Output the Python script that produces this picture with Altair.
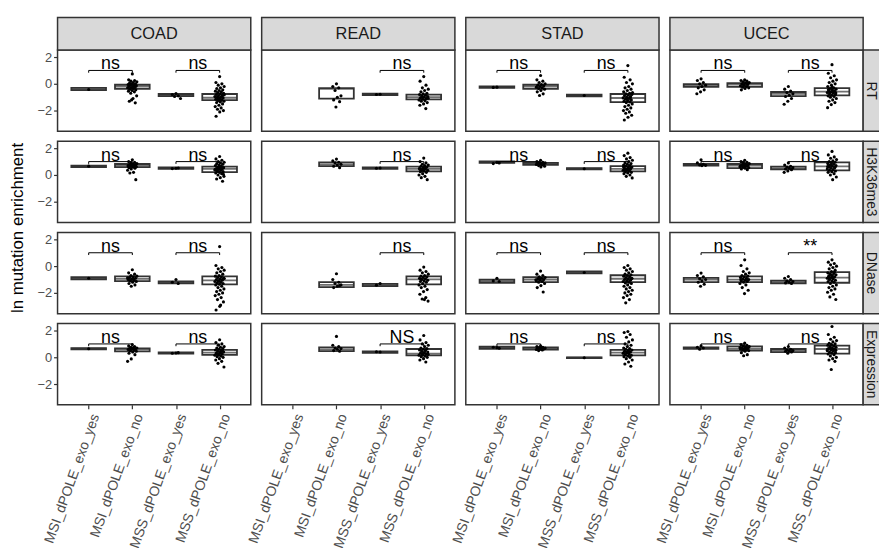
import altair as alt
import pandas as pd

CANCERS = ["COAD", "READ", "STAD", "UCEC"]
FEATURES = ["RT", "H3K36me3", "DNase", "Expression"]
GROUPS = ["MSI_dPOLE_exo_yes", "MSI_dPOLE_exo_no", "MSS_dPOLE_exo_yes", "MSS_dPOLE_exo_no"]
Y_TICKS = [-2, 0, 2]
Y_DOMAIN = [-3.55, 2.52]

# ---- box statistics (q1, median, q3) per group ----
RT_BOX = {
    "COAD": [(-0.47, -0.39, -0.31), (-0.37, -0.20, -0.07), (-0.92, -0.84, -0.76), (-1.21, -1.04, -0.76)],
    "READ": [None, (-1.11, -0.38, -0.32), (-0.85, -0.79, -0.73), (-1.16, -0.99, -0.81)],
    "STAD": [(-0.31, -0.25, -0.19), (-0.37, -0.20, -0.07), (-0.93, -0.87, -0.81), (-1.36, -1.06, -0.76)],
    "UCEC": [(-0.23, -0.10, -0.02), (-0.23, -0.05, 0.05), (-0.92, -0.75, -0.61), (-0.87, -0.59, -0.32)],
}
H3_BOX = {
    "COAD": [(0.59, 0.64, 0.69), (0.59, 0.70, 0.82), (0.46, 0.51, 0.57), (0.22, 0.45, 0.62)],
    "READ": [None, (0.66, 0.80, 0.94), (0.46, 0.51, 0.57), (0.27, 0.45, 0.62)],
    "STAD": [(0.91, 0.96, 1.02), (0.76, 0.85, 0.91), (0.42, 0.47, 0.52), (0.27, 0.45, 0.67)],
    "UCEC": [(0.71, 0.76, 0.82), (0.51, 0.70, 0.82), (0.42, 0.50, 0.62), (0.34, 0.65, 0.94)],
}
DN_BOX = {
    "COAD": [(-0.99, -0.91, -0.83), (-1.12, -0.95, -0.76), (-1.29, -1.21, -1.13), (-1.36, -1.06, -0.76)],
    "READ": [None, (-1.56, -1.40, -1.20), (-1.49, -1.41, -1.33), (-1.36, -0.99, -0.76)],
    "STAD": [(-1.24, -1.12, -1.01), (-1.19, -1.00, -0.83), (-0.54, -0.47, -0.39), (-1.19, -0.94, -0.68)],
    "UCEC": [(-1.19, -1.00, -0.88), (-1.19, -1.01, -0.76), (-1.29, -1.20, -1.08), (-1.24, -0.86, -0.44)],
}
EX_BOX = {
    "COAD": [(0.59, 0.64, 0.69), (0.44, 0.60, 0.67), (0.27, 0.32, 0.37), (0.19, 0.35, 0.55)],
    "READ": [None, (0.47, 0.60, 0.74), (0.34, 0.40, 0.45), (0.14, 0.27, 0.62)],
    "STAD": [(0.64, 0.72, 0.80), (0.57, 0.65, 0.74), (-0.06, -0.03, 0.00), (0.14, 0.35, 0.55)],
    "UCEC": [(0.64, 0.70, 0.74), (0.51, 0.65, 0.82), (0.39, 0.50, 0.62), (0.27, 0.62, 0.87)],
}

# ---- individual (jittered) points per group ----
RT_PTS = {
    "COAD": [
        [-0.42],
        [0.74, 0.3, 0.25, 0.2, 0.15, 0.1, 0.05, 0.0, 0.0, -0.05, -0.1, -0.1, -0.15, -0.2, -0.2, -0.25, -0.3,
         -0.3, -0.35, -0.4, -0.45, -0.5, -0.55, -0.6, -0.7, -0.9, -1.1, -1.3, -1.42, -1.2],
        [-0.72, -0.8, -0.9, -0.95, -1.1],
        [0.54, 0.1, 0.0, -0.1, -0.2, -0.3, -0.35, -0.45, -0.5, -0.55, -0.6, -0.65, -0.7, -0.75, -0.8, -0.85,
         -0.9, -0.95, -1.0, -1.0, -1.05, -1.1, -1.15, -1.2, -1.25, -1.3, -1.35, -1.4, -1.5, -1.6, -1.7, -1.8,
         -1.9, -2.0, -2.1, -2.42, -0.92, -1.12, -0.82, -1.22],
    ],
    "READ": [
        [],
        [0.0, -0.2, -0.3, -0.5, -0.9, -1.0, -1.2, -1.33, -1.73],
        [-0.78, -0.8],
        [0.54, 0.2, -0.1, -0.3, -0.4, -0.5, -0.6, -0.7, -0.75, -0.8, -0.85, -0.9, -0.95, -1.0, -1.05, -1.1,
         -1.15, -1.2, -1.25, -1.3, -1.4, -1.5, -1.6, -1.85, -0.98, -1.08],
    ],
    "STAD": [
        [-0.25, -0.27],
        [0.62, 0.3, 0.2, 0.1, 0.0, -0.05, -0.1, -0.15, -0.2, -0.25, -0.3, -0.35, -0.4, -0.5, -0.6, -0.75, -0.87],
        [-0.87],
        [1.36, 0.49, 0.3, 0.1, 0.0, -0.2, -0.3, -0.4, -0.5, -0.6, -0.7, -0.75, -0.8, -0.85, -0.9, -0.95, -1.0,
         -1.05, -1.1, -1.15, -1.2, -1.25, -1.3, -1.35, -1.4, -1.5, -1.6, -1.7, -1.8, -1.9, -2.0, -2.1, -2.2,
         -2.35, -2.5, -2.7, -1.02, -1.12, -0.65],
    ],
    "UCEC": [
        [0.37, 0.25, 0.1, 0.0, -0.1, -0.2, -0.3, -0.45, -0.6, -0.74],
        [0.3, 0.25, 0.2, 0.15, 0.1, 0.05, 0.0, -0.05, -0.1, -0.15, -0.2, -0.25, -0.3, -0.35, -0.45, 0.02, -0.08],
        [-0.2, -0.4, -0.55, -0.65, -0.75, -0.85, -0.95, -1.1, -1.3, -1.53],
        [1.43, 0.79, 0.6, 0.45, 0.3, 0.2, 0.1, 0.0, -0.1, -0.2, -0.3, -0.35, -0.4, -0.45, -0.5, -0.55, -0.6,
         -0.65, -0.7, -0.75, -0.8, -0.85, -0.9, -0.95, -1.0, -1.1, -1.2, -1.3, -1.4, -1.55, -1.78, -0.58,
         -0.62, -0.68, -0.25, -0.42],
    ],
}
H3_PTS = {
    "COAD": [
        [0.66],
        [1.13, 1.0, 0.95, 0.9, 0.85, 0.8, 0.78, 0.75, 0.72, 0.7, 0.68, 0.65, 0.62, 0.6, 0.55, 0.5, 0.45, 0.35,
         0.2, 0.15, -0.35, 0.72, 0.66],
        [0.5, 0.48, 0.52],
        [1.38, 1.2, 1.1, 1.0, 0.95, 0.9, 0.85, 0.8, 0.75, 0.7, 0.65, 0.6, 0.55, 0.5, 0.48, 0.45, 0.42, 0.4,
         0.35, 0.3, 0.25, 0.2, 0.15, 0.1, 0.0, -0.1, -0.2, -0.3, -0.47, 0.52, 0.38, 0.58, 0.28, 0.05, 0.62],
    ],
    "READ": [
        [],
        [1.19, 1.05, 0.95, 0.9, 0.8, 0.75, 0.65, 0.55],
        [0.52, 0.5],
        [1.26, 1.0, 0.9, 0.8, 0.75, 0.7, 0.65, 0.6, 0.55, 0.5, 0.45, 0.4, 0.35, 0.3, 0.25, 0.2, 0.1, 0.0,
         -0.1, -0.2, -0.35, 0.48, 0.42, 0.58, 0.36],
    ],
    "STAD": [
        [0.95, 0.85, 0.9],
        [1.1, 1.0, 0.95, 0.92, 0.9, 0.88, 0.85, 0.82, 0.8, 0.78, 0.75, 0.7, 0.65, 0.6, 0.86, 0.84],
        [0.47],
        [1.63, 1.45, 1.3, 1.2, 1.1, 1.0, 0.9, 0.85, 0.8, 0.75, 0.7, 0.65, 0.6, 0.55, 0.5, 0.45, 0.4, 0.35,
         0.3, 0.25, 0.2, 0.15, 0.1, 0.0, -0.1, -0.22, 0.48, 0.42, 0.52, 0.38, 0.62, 0.32],
    ],
    "UCEC": [
        [1.13, 0.9, 0.8, 0.75, 0.72, 0.7],
        [1.1, 1.0, 0.95, 0.9, 0.85, 0.8, 0.75, 0.72, 0.7, 0.68, 0.65, 0.6, 0.55, 0.5, 0.45, 0.4, 0.78, 0.62],
        [0.9, 0.75, 0.65, 0.6, 0.55, 0.5, 0.45, 0.4, 0.3, 0.2],
        [1.76, 1.5, 1.35, 1.25, 1.15, 1.05, 1.0, 0.95, 0.9, 0.85, 0.8, 0.75, 0.7, 0.65, 0.6, 0.55, 0.5, 0.45,
         0.4, 0.35, 0.3, 0.25, 0.2, 0.1, 0.0, -0.15, -0.35, 0.68, 0.58, 0.72, 0.62],
    ],
}
DN_PTS = {
    "COAD": [
        [-0.9],
        [-0.27, -0.5, -0.6, -0.7, -0.75, -0.8, -0.85, -0.9, -0.95, -1.0, -1.05, -1.1, -1.15, -1.2, -1.3, -1.4,
         -1.5, -0.88, -0.98, -1.08],
        [-1.0, -1.2, -1.3],
        [1.46, 0.05, -0.1, -0.2, -0.3, -0.4, -0.5, -0.6, -0.7, -0.75, -0.8, -0.85, -0.9, -0.95, -1.0, -1.05,
         -1.1, -1.15, -1.2, -1.25, -1.3, -1.35, -1.4, -1.5, -1.6, -1.7, -1.8, -1.9, -2.0, -2.1, -2.2, -2.35,
         -2.5, -2.67, -3.0, -3.28, -1.02, -1.12, -0.92, -2.9],
    ],
    "READ": [
        [],
        [-0.57, -1.0, -1.2, -1.3, -1.4, -1.5, -1.6, -1.45],
        [-1.3, -1.42],
        [-0.07, -0.3, -0.4, -0.5, -0.6, -0.7, -0.75, -0.8, -0.85, -0.9, -0.95, -1.0, -1.05, -1.1, -1.15, -1.2,
         -1.3, -1.4, -1.5, -1.6, -1.75, -1.9, -2.1, -2.35, -2.45, -2.61, -2.5, -0.98],
    ],
    "STAD": [
        [-0.9, -1.1, -1.15],
        [-0.37, -0.6, -0.7, -0.8, -0.85, -0.9, -0.95, -1.0, -1.05, -1.1, -1.15, -1.2, -1.3, -1.45, -1.6, -1.93,
         -0.98, -1.02],
        [-0.47],
        [0.05, -0.1, -0.2, -0.3, -0.4, -0.5, -0.6, -0.65, -0.7, -0.75, -0.8, -0.85, -0.9, -0.95, -1.0, -1.05,
         -1.1, -1.15, -1.2, -1.25, -1.3, -1.4, -1.5, -1.6, -1.7, -1.8, -1.9, -2.0, -2.1, -2.2, -2.35, -2.5,
         -2.74, -0.92, -0.97],
    ],
    "UCEC": [
        [-0.52, -0.7, -0.8, -0.95, -1.0, -1.1, -1.2, -1.35, -1.5],
        [0.47, 0.05, -0.2, -0.4, -0.5, -0.6, -0.7, -0.75, -0.8, -0.85, -0.9, -0.95, -1.0, -1.05, -1.1, -1.15,
         -1.2, -1.3, -1.4, -1.6, -1.8, -2.05, -1.02, -0.98],
        [-0.77, -0.9, -1.0, -1.1, -1.15, -1.2, -1.25, -1.3],
        [0.47, 0.3, 0.2, 0.1, 0.0, -0.1, -0.2, -0.3, -0.4, -0.5, -0.55, -0.6, -0.65, -0.7, -0.75, -0.8, -0.85,
         -0.9, -0.95, -1.0, -1.05, -1.1, -1.15, -1.2, -1.3, -1.4, -1.5, -1.6, -1.7, -1.8, -1.95, -2.1, -2.3,
         -2.49, -0.82, -0.88, -0.45, -0.62],
    ],
}
EX_PTS = {
    "COAD": [
        [0.64],
        [0.95, 0.85, 0.8, 0.75, 0.7, 0.68, 0.65, 0.62, 0.6, 0.58, 0.55, 0.5, 0.45, 0.4, 0.3, 0.2, -0.12, -0.3,
         0.72, 0.52],
        [0.32, 0.3, 0.35],
        [1.31, 1.1, 1.0, 0.9, 0.8, 0.75, 0.7, 0.65, 0.6, 0.55, 0.5, 0.45, 0.4, 0.35, 0.3, 0.25, 0.2, 0.15, 0.1,
         0.05, 0.0, -0.1, -0.2, -0.3, -0.45, -0.72, 0.38, 0.28, 0.48, 0.18],
    ],
    "READ": [
        [],
        [1.56, 0.9, 0.8, 0.7, 0.65, 0.6, 0.5, 0.45],
        [0.4, 0.42],
        [1.63, 1.3, 1.1, 1.0, 0.9, 0.8, 0.7, 0.65, 0.6, 0.55, 0.5, 0.45, 0.4, 0.35, 0.3, 0.25, 0.2, 0.15, 0.1,
         0.05, 0.0, -0.1, -0.2, -0.35, 0.28, 0.22, 0.32],
    ],
    "STAD": [
        [0.72, 0.75, 0.68],
        [0.85, 0.8, 0.75, 0.72, 0.7, 0.68, 0.65, 0.62, 0.6, 0.58, 0.55, 0.5, 0.66, 0.64],
        [-0.03],
        [1.93, 1.85, 1.7, 1.5, 1.3, 1.15, 1.0, 0.9, 0.8, 0.7, 0.65, 0.6, 0.55, 0.5, 0.45, 0.4, 0.35, 0.3, 0.25,
         0.2, 0.15, 0.1, 0.05, 0.0, -0.1, -0.2, -0.35, -0.5, -0.67, 0.38, 0.32, 0.42],
    ],
    "UCEC": [
        [0.85, 0.75, 0.7, 0.6],
        [1.06, 0.95, 0.9, 0.85, 0.8, 0.75, 0.7, 0.68, 0.65, 0.62, 0.6, 0.55, 0.5, 0.45, 0.35, 0.2, 0.12, 0.72,
         0.58],
        [0.8, 0.7, 0.6, 0.55, 0.5, 0.48, 0.45, 0.4, 0.3],
        [2.3, 1.7, 1.5, 1.35, 1.25, 1.15, 1.05, 1.0, 0.95, 0.9, 0.85, 0.8, 0.75, 0.7, 0.65, 0.6, 0.55, 0.5,
         0.45, 0.4, 0.35, 0.3, 0.25, 0.2, 0.1, 0.0, -0.1, -0.2, -0.3, -0.91, 0.62, 0.58, 0.68, 0.52],
    ],
}

# ---- significance labels: [MSI yes vs no, MSS yes vs no] ----
SIG = {
    "RT": {"COAD": ["ns", "ns"], "READ": [None, "ns"], "STAD": ["ns", "ns"], "UCEC": ["ns", "ns"]},
    "H3K36me3": {"COAD": ["ns", "ns"], "READ": [None, "ns"], "STAD": ["ns", "ns"], "UCEC": ["ns", "ns"]},
    "DNase": {"COAD": ["ns", "ns"], "READ": [None, "ns"], "STAD": ["ns", "ns"], "UCEC": ["ns", "**"]},
    "Expression": {"COAD": ["ns", "ns"], "READ": [None, "NS"], "STAD": ["ns", "ns"], "UCEC": ["ns", "ns"]},
}
BRACKET_Y = 1.0
BRACKET_TIP = 0.17

BOXES = {"RT": RT_BOX, "H3K36me3": H3_BOX, "DNase": DN_BOX, "Expression": EX_BOX}
POINTS = {"RT": RT_PTS, "H3K36me3": H3_PTS, "DNase": DN_PTS, "Expression": EX_PTS}

# ---- build tables ----
pt_rows, box_rows, seg_rows, lab_rows = [], [], [], []
for f in FEATURES:
    for c in CANCERS:
        for gi in range(len(GROUPS)):
            for k, v in enumerate(POINTS[f][c][gi]):
                jit = (((k * 0.6180339887) + 0.5) % 1.0 - 0.5) * 0.22
                pt_rows.append(dict(feature=f, cancer=c, xj=gi + 1 + jit, y=v))
            b = BOXES[f][c][gi]
            if b is not None:
                box_rows.append(dict(feature=f, cancer=c, pos=gi + 1, q1=b[0], med=b[1], q3=b[2]))
        for pi, lab in enumerate(SIG[f][c]):
            if lab is None:
                continue
            x1, x2 = 2 * pi + 1, 2 * pi + 2
            yb = BRACKET_Y
            seg_rows += [
                dict(feature=f, cancer=c, xa=x1, xb=x2, ya=yb, yb=yb),
                dict(feature=f, cancer=c, xa=x1, xb=x1, ya=yb, yb=yb - BRACKET_TIP),
                dict(feature=f, cancer=c, xa=x2, xb=x2, ya=yb, yb=yb - BRACKET_TIP),
            ]
            lab_rows.append(dict(feature=f, cancer=c, xm=(x1 + x2) / 2, y=yb, label=lab))

pts_df = pd.DataFrame(pt_rows)
box_df = pd.DataFrame(box_rows)
seg_df = pd.DataFrame(seg_rows)
lab_df = pd.DataFrame(lab_rows)

W, H = 195, 82
DARK = "#333333"
label_expr = "[" + ",".join("'%s'" % g for g in GROUPS) + "][datum.value - 1]"


def panel(f, c, ri, ci):
    flt = (alt.datum.feature == f) & (alt.datum.cancer == c)
    xs = alt.Scale(domain=[0.4, 4.6], nice=False, zero=False)
    ys = alt.Scale(domain=Y_DOMAIN, nice=False, zero=False)
    if ri == len(FEATURES) - 1:
        xaxis = alt.Axis(values=[1, 2, 3, 4], labelExpr=label_expr, labelAngle=-70, labelAlign="right",
                         labelBaseline="top", labelFontSize=14, labelColor="#4d4d4d", labelPadding=3,
                         labelOverlap=False, labelFlush=False, labelBound=False, tickColor=DARK,
                         tickSize=4, tickWidth=1.2, domain=False, grid=False, title=None)
    else:
        xaxis = None
    if ci == 0:
        yargs = dict(values=Y_TICKS, labelFontSize=13, labelColor="#4d4d4d", labelPadding=2,
                     labelFlush=False, tickColor=DARK, tickSize=4, tickWidth=1.2, domain=False,
                     grid=False, title=None)
        if ri == 1:
            yargs.update(title="ln mutation enrichment", titleFontSize=17, titleFontWeight="normal",
                         titleColor="black", titleX=-40, titleY=H + 5, titleAngle=270,
                         titleBaseline="middle", titleAlign="center")
        yaxis = alt.Axis(**yargs)
    else:
        yaxis = None

    boxes = alt.Chart(box_df).transform_filter(flt).mark_bar(
        size=35, fill="white", stroke=DARK, strokeWidth=1.8
    ).encode(x=alt.X("pos:Q", scale=xs, axis=xaxis), y=alt.Y("q1:Q", scale=ys, axis=yaxis), y2="q3:Q")
    med = alt.Chart(box_df).transform_filter(flt).mark_tick(
        orient="horizontal", size=35, thickness=1.8, color=DARK
    ).encode(x="pos:Q", y="med:Q")
    pts = alt.Chart(pts_df).transform_filter(flt).mark_circle(size=10, color="black", opacity=1).encode(
        x="xj:Q", y="y:Q")
    segs = alt.Chart(seg_df).transform_filter(flt).mark_rule(color="black", strokeWidth=1).encode(
        x="xa:Q", x2="xb:Q", y="ya:Q", y2="yb:Q")
    labs = alt.Chart(lab_df).transform_filter(flt).mark_text(
        baseline="alphabetic", dy=-1, fontSize=18, color="black"
    ).encode(x="xm:Q", y="y:Q", text="label:N")
    layers = [boxes, med, pts, segs, labs]
    if ri == 0:
        sdf = pd.DataFrame({"cancer": [c]})
        layers.append(alt.Chart(sdf).mark_rect(fill="#d9d9d9", stroke=DARK, strokeWidth=1.5).encode(
            x=alt.value(0), x2=alt.value(W), y=alt.value(-33), y2=alt.value(0)))
        layers.append(alt.Chart(sdf).mark_text(fontSize=16.5, color="#1a1a1a").encode(
            x=alt.value(W / 2), y=alt.value(-16), text="cancer:N"))
    if ci == len(CANCERS) - 1:
        fdf = pd.DataFrame({"feature": [f]})
        layers.append(alt.Chart(fdf).mark_rect(fill="#d9d9d9", stroke=DARK, strokeWidth=1.5).encode(
            x=alt.value(W), x2=alt.value(W + 27), y=alt.value(0), y2=alt.value(H)))
        layers.append(alt.Chart(fdf).mark_text(fontSize=14, color="#1a1a1a", angle=90).encode(
            x=alt.value(W + 8), y=alt.value(H / 2), text="feature:N"))
    return alt.layer(*layers).properties(width=W, height=H)


panels = [panel(f, c, ri, ci) for ri, f in enumerate(FEATURES) for ci, c in enumerate(CANCERS)]

chart = alt.concat(
    *panels, columns=4, spacing={"row": 10, "column": 11}, bounds="flush",
    padding={"left": 0, "top": 5, "right": -13, "bottom": -6},
).configure(font="Liberation Sans", background="white").configure_view(stroke=DARK, strokeWidth=1.5)

chart.save("out.html", embed_options={"renderer": "svg", "actions": False})
